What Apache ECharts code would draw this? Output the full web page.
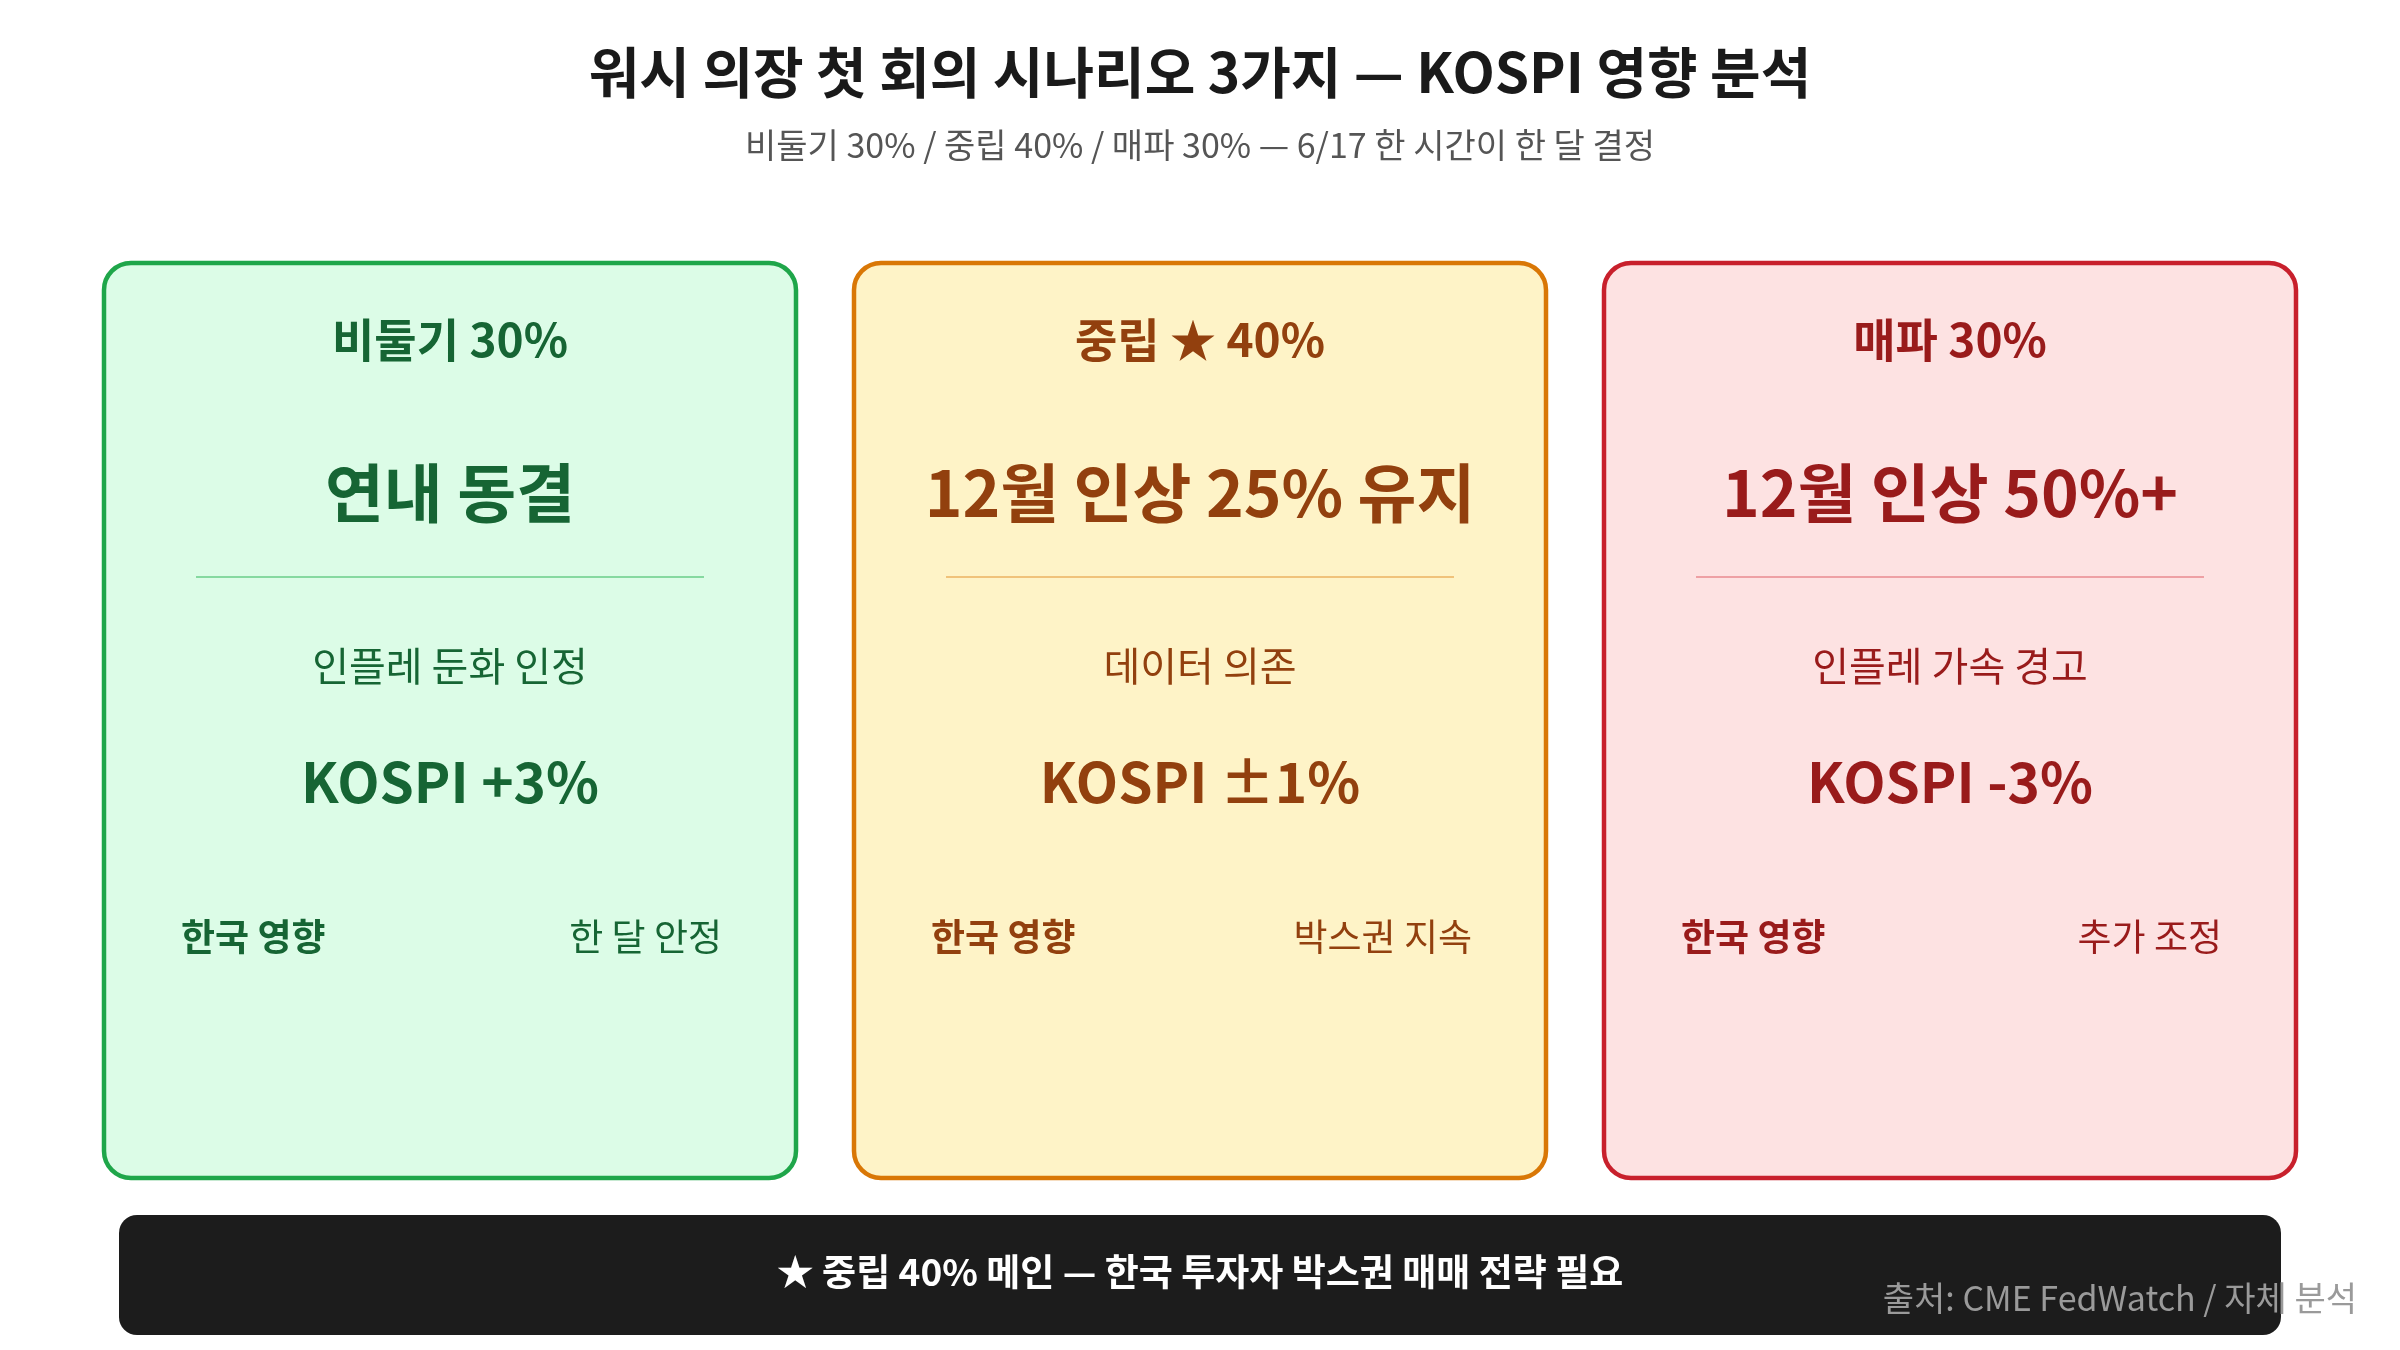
<!DOCTYPE html><html><head><meta charset="utf-8"><script src="https://cdn.jsdelivr.net/npm/echarts@6/dist/echarts.min.js"></script>
<style>html,body{margin:0;padding:0;background:#fff}#c{width:2400px;height:1350px}</style></head><body><div id="c"></div><script>
const titleText='워시 의장 첫 회의 시나리오 3가지 — KOSPI 영향 분석';
const subtitleText='비둘기 30% / 중립 40% / 매파 30% — 6/17 한 시간이 한 달 결정';
const headings=['비둘기 30%','중립 ★ 40%','매파 30%'];
const mains=['연내 동결','12월 인상 25% 유지','12월 인상 50%+'];
const descs=['인플레 둔화 인정','데이터 의존','인플레 가속 경고'];
const kospi=['KOSPI +3%','KOSPI ±1%','KOSPI -3%'];
const impactLabel='한국 영향';
const impacts=['한 달 안정','박스권 지속','추가 조정'];
const footerText='★ 중립 40% 메인 — 한국 투자자 박스권 매매 전략 필요';
const sourceText='출처: CME FedWatch / 자체 분석';
const themes=[
 {b:'#1fa64a',f:'#dcfce7',t:'#166534',d:'#86d9a0'},
 {b:'#d97706',f:'#fef3c7',t:'#92400e',d:'#f0c27a'},
 {b:'#c8202c',f:'#fde2e2',t:'#991b1b',d:'#eea0a4'}];
const F='"Noto Sans CJK KR","Noto Sans",sans-serif';
const g=[];
g.push({type:'text',left:'center',top:45,style:{text:titleText,font:'bold 55px '+F,fill:'#1a1a1a'}});
g.push({type:'text',left:'center',top:128,style:{text:subtitleText,font:'34px '+F,fill:'#555'}});
const xs=[104,854,1604],w=692;
xs.forEach((x,i)=>{const th=themes[i],cx=x+w/2;
 g.push({type:'rect',shape:{x:x,y:263,width:w,height:915,r:27},style:{fill:th.f,stroke:th.b,lineWidth:4.5}});
 g.push({type:'text',x:cx,y:340,style:{text:headings[i],font:'bold 46px '+F,fill:th.t,align:'center',verticalAlign:'middle'}});
 g.push({type:'text',x:cx,y:493,style:{text:mains[i],font:'bold 64px '+F,fill:th.t,align:'center',verticalAlign:'middle'}});
 g.push({type:'line',shape:{x1:x+92,y1:577,x2:x+600,y2:577},style:{stroke:th.d,lineWidth:2}});
 g.push({type:'text',x:cx,y:666,style:{text:descs[i],font:'40px '+F,fill:th.t,align:'center',verticalAlign:'middle'}});
 g.push({type:'text',x:cx,y:782,style:{text:kospi[i],font:'bold 55px '+F,fill:th.t,align:'center',verticalAlign:'middle'}});
 g.push({type:'text',x:x+77,y:937,style:{text:impactLabel,font:'bold 37px '+F,fill:th.t,align:'left',verticalAlign:'middle'}});
 g.push({type:'text',x:x+618,y:937,style:{text:impacts[i],font:'37px '+F,fill:th.t,align:'right',verticalAlign:'middle'}});
});
g.push({type:'rect',shape:{x:119,y:1215,width:2162,height:120,r:18},style:{fill:'#1c1c1c'}});
g.push({type:'text',x:1200,y:1272,style:{text:footerText,font:'bold 37px '+F,fill:'#fff',align:'center',verticalAlign:'middle'}});
g.push({type:'text',x:2357,y:1298,z:10,style:{text:sourceText,font:'34px '+F,fill:'#9a9a9a',align:'right',verticalAlign:'middle'}});
const ch=echarts.init(document.getElementById('c'));
ch.setOption({animation:false,graphic:g});
</script></body></html>
